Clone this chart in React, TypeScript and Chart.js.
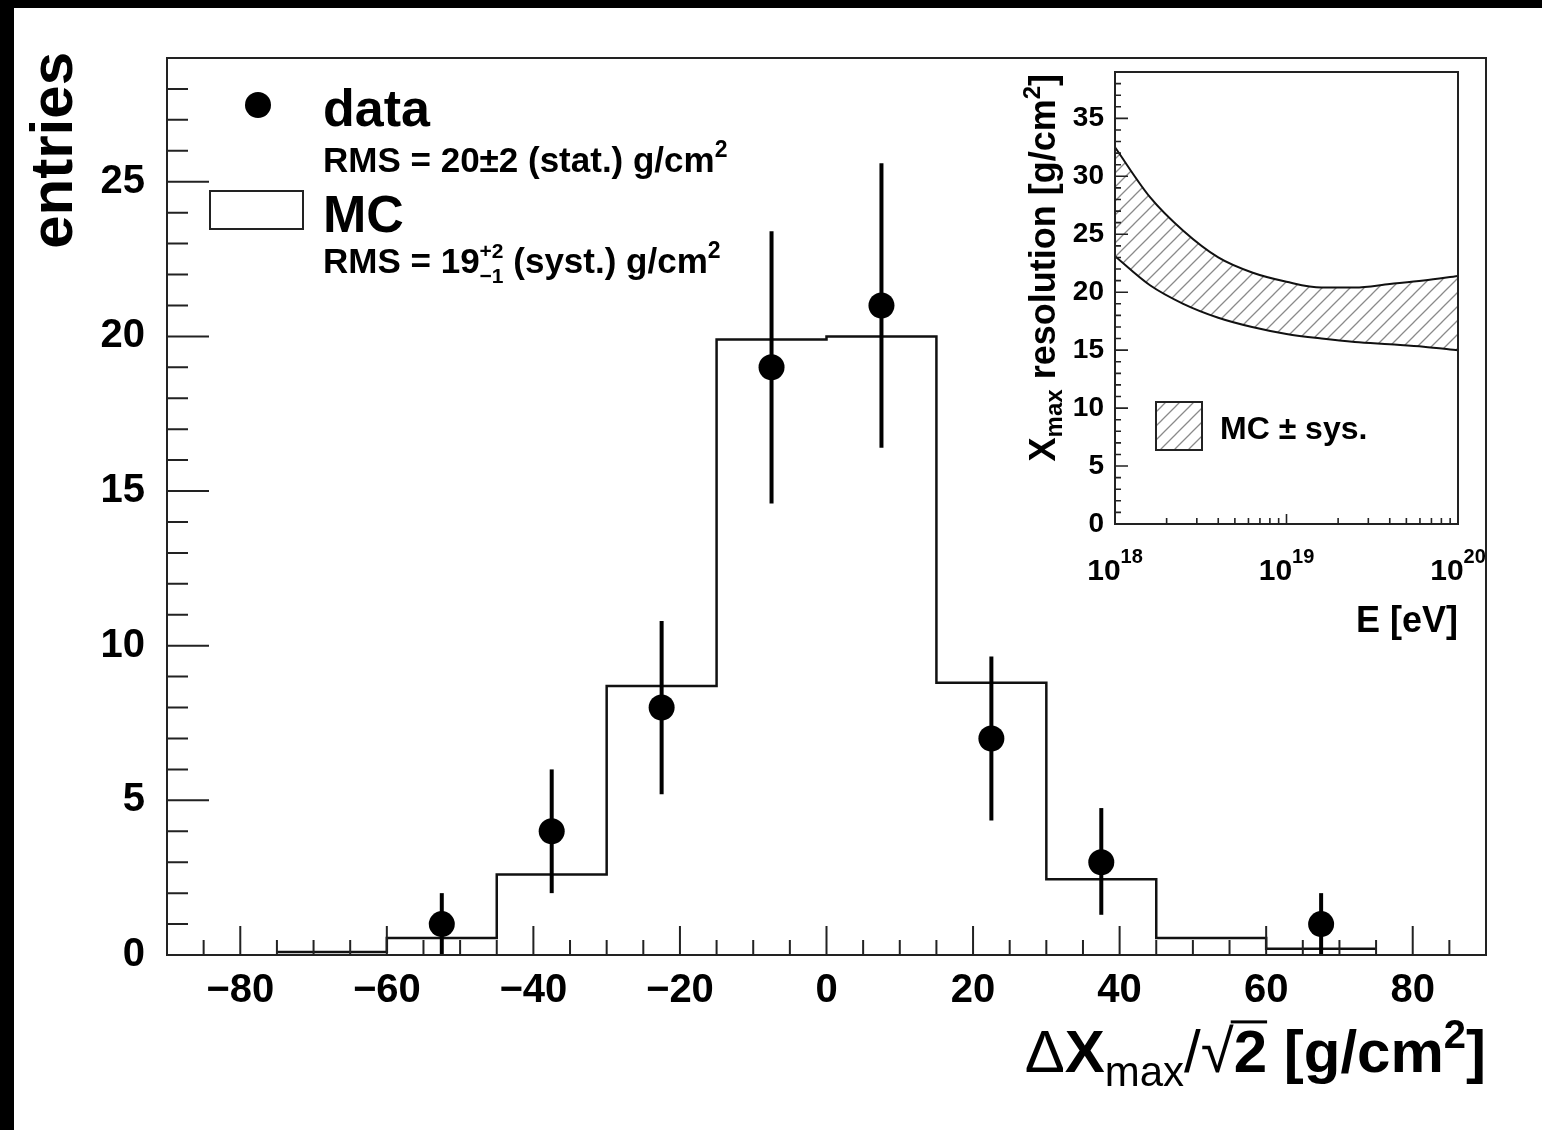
import React, { useEffect, useRef } from "react";
import { Chart, registerables } from "chart.js";

Chart.register(...registerables);

// ---------------- main histogram data ----------------
const binEdges = [-75, -60, -45, -30, -15, 0, 15, 30, 45, 60, 75];
const mcEntries = [0.1, 0.55, 2.6, 8.7, 19.9, 20.0, 8.8, 2.45, 0.55, 0.2];
const dataCenters = [-52.5, -37.5, -22.5, -7.5, 7.5, 22.5, 37.5, 67.5];
const dataEntries = [1, 4, 8, 19, 21, 7, 3, 1];
const dataErrDown = [1, 2, 2.8, 4.4, 4.6, 2.65, 1.7, 1];
const dataErrUp = [1, 2, 2.8, 4.4, 4.6, 2.65, 1.75, 1];
const xTickValues = [-80, -60, -40, -20, 0, 20, 40, 60, 80];
const yTickValues = [0, 5, 10, 15, 20, 25];

// ---------------- inset data ----------------
const insetEnergies = [1e18, 1.6e18, 2.5e18, 4e18, 6.3e18, 1e19, 1.6e19, 2.5e19, 4e19, 6.3e19, 1e20];
const insetUpper = [32.5, 28.2, 25.3, 23.0, 21.7, 20.9, 20.4, 20.4, 20.7, 21.0, 21.4];
const insetLower = [23.1, 20.6, 19.0, 17.8, 17.0, 16.4, 16.0, 15.7, 15.5, 15.3, 15.0];
const insetXTickExponents = [18, 19, 20];
const insetYTickValues = [0, 5, 10, 15, 20, 25, 30, 35];

const FONT = '"Liberation Sans", Helvetica, Arial, sans-serif';
const W = 1542;
const H = 1130;

type Run = { t: string; size: number; bold?: boolean; dy?: number; stack?: boolean; overline?: boolean };

function fontOf(r: Run) {
  return `${r.bold === false ? "normal" : "bold"} ${r.size}px ${FONT}`;
}

function measureRuns(ctx: CanvasRenderingContext2D, runs: Run[]) {
  let w = 0;
  for (let i = 0; i < runs.length; i++) {
    ctx.font = fontOf(runs[i]);
    const m = ctx.measureText(runs[i].t).width;
    if (runs[i].stack && runs[i + 1]) {
      ctx.font = fontOf(runs[i + 1]);
      const m2 = ctx.measureText(runs[i + 1].t).width;
      w += Math.max(m, m2);
      i++;
    } else w += m;
  }
  return w;
}

function drawRuns(ctx: CanvasRenderingContext2D, runs: Run[], x: number, y: number, align: "left" | "right" | "center") {
  const total = measureRuns(ctx, runs);
  let cx = align === "right" ? x - total : align === "center" ? x - total / 2 : x;
  ctx.textAlign = "left";
  ctx.textBaseline = "alphabetic";
  for (let i = 0; i < runs.length; i++) {
    const r = runs[i];
    ctx.font = fontOf(r);
    const m = ctx.measureText(r.t).width;
    ctx.fillText(r.t, cx, y + (r.dy || 0));
    if (r.overline) {
      ctx.fillRect(cx - 3, y + (r.dy || 0) - r.size * 0.86, m + 3, Math.max(2, r.size * 0.05));
    }
    if (r.stack && runs[i + 1]) {
      const r2 = runs[i + 1];
      ctx.font = fontOf(r2);
      const m2 = ctx.measureText(r2.t).width;
      ctx.fillText(r2.t, cx, y + (r2.dy || 0));
      cx += Math.max(m, m2);
      i++;
    } else cx += m;
  }
}

function makeHatch(): CanvasPattern | string {
  const c = document.createElement("canvas");
  c.width = 14;
  c.height = 14;
  const g = c.getContext("2d");
  if (!g) return "rgba(0,0,0,0.2)";
  g.strokeStyle = "#8a8a8a";
  g.lineWidth = 1.3;
  g.beginPath();
  g.moveTo(-3, 17);
  g.lineTo(17, -3);
  g.moveTo(-3, 3);
  g.lineTo(3, -3);
  g.moveTo(11, 17);
  g.lineTo(17, 11);
  g.stroke();
  const p = g.createPattern(c, "repeat");
  return p || "rgba(0,0,0,0.2)";
}

const tickFont = { family: FONT, size: 40, weight: "bold" as const };
const minusFmt = (v: number | string) => {
  const n = Number(v);
  return n < 0 ? "\u2212" + Math.abs(n) : String(n);
};

const mainDecor = {
  id: "mainDecor",
  afterDatasetsDraw(chart: any) {
    const { ctx, scales } = chart;
    const x = scales.x;
    const y = scales.y;
    ctx.save();
    ctx.strokeStyle = "#000";
    ctx.lineWidth = 4;
    dataCenters.forEach((c, i) => {
      const px = x.getPixelForValue(c);
      ctx.beginPath();
      ctx.moveTo(px, y.getPixelForValue(dataEntries[i] - dataErrDown[i]));
      ctx.lineTo(px, y.getPixelForValue(dataEntries[i] + dataErrUp[i]));
      ctx.stroke();
    });
    ctx.restore();
  },
  afterDraw(chart: any) {
    const { ctx, chartArea: a, scales } = chart;
    const x = scales.x;
    const y = scales.y;
    ctx.save();
    // frame
    ctx.strokeStyle = "#222";
    ctx.lineWidth = 2;
    ctx.strokeRect(a.left, a.top, a.right - a.left, a.bottom - a.top);
    // ticks (inward)
    ctx.lineWidth = 2;
    ctx.beginPath();
    for (let v = -85; v <= 85; v += 5) {
      const px = x.getPixelForValue(v);
      const len = v % 20 === 0 ? 29 : 15;
      ctx.moveTo(px, a.bottom);
      ctx.lineTo(px, a.bottom - len);
    }
    for (let v = 0; v <= 28; v += 1) {
      const py = y.getPixelForValue(v);
      const len = v % 5 === 0 ? 42 : 21;
      ctx.moveTo(a.left, py);
      ctx.lineTo(a.left + len, py);
    }
    ctx.stroke();

    ctx.fillStyle = "#000";
    // legend
    ctx.beginPath();
    ctx.arc(258, 105, 13, 0, Math.PI * 2);
    ctx.fill();
    drawRuns(ctx, [{ t: "data", size: 52 }], 323, 126, "left");
    drawRuns(
      ctx,
      [
        { t: "RMS = 20\u00b12 (stat.) g/cm", size: 35 },
        { t: "2", size: 23, dy: -15 },
      ],
      323,
      172,
      "left"
    );
    ctx.strokeStyle = "#222";
    ctx.lineWidth = 2;
    ctx.strokeRect(210, 191, 93, 38);
    drawRuns(ctx, [{ t: "MC", size: 52 }], 323, 232, "left");
    drawRuns(
      ctx,
      [
        { t: "RMS = 19", size: 35 },
        { t: "+2", size: 21, dy: -15, stack: true },
        { t: "\u22121", size: 21, dy: 10 },
        { t: " (syst.) g/cm", size: 35 },
        { t: "2", size: 23, dy: -15 },
      ],
      323,
      273,
      "left"
    );

    // y title
    ctx.save();
    ctx.translate(72, 52);
    ctx.rotate(-Math.PI / 2);
    drawRuns(ctx, [{ t: "entries", size: 60 }], 0, 0, "right");
    ctx.restore();

    // x title
    drawRuns(
      ctx,
      [
        { t: "\u0394", size: 60, bold: false },
        { t: "X", size: 60 },
        { t: "max", size: 42, bold: false, dy: 14 },
        { t: "/", size: 60, bold: false },
        { t: "\u221a", size: 60, bold: false },
        { t: "2", size: 60, overline: true },
        { t: " [g/cm", size: 60 },
        { t: "2", size: 40, dy: -24 },
        { t: "]", size: 60 },
      ],
      a.right,
      1072,
      "right"
    );
    ctx.restore();
  },
};

const insetDecor = {
  id: "insetDecor",
  afterDraw(chart: any) {
    const { ctx, chartArea: a, scales } = chart;
    const x = scales.x;
    const y = scales.y;
    ctx.save();
    ctx.strokeStyle = "#222";
    ctx.lineWidth = 2;
    ctx.strokeRect(a.left, a.top, a.right - a.left, a.bottom - a.top);
    ctx.lineWidth = 1.6;
    ctx.beginPath();
    for (let v = 1; v < 39; v += 1) {
      const py = y.getPixelForValue(v);
      const len = v % 5 === 0 ? 13 : 6;
      ctx.moveTo(a.left, py);
      ctx.lineTo(a.left + len, py);
    }
    for (let e = 18; e < 20; e++) {
      for (let k = 1; k <= 9; k++) {
        if (k === 1 && e === 18) continue;
        const px = x.getPixelForValue(k * Math.pow(10, e));
        const len = k === 1 ? 10 : 6;
        ctx.moveTo(px, a.bottom);
        ctx.lineTo(px, a.bottom - len);
      }
    }
    ctx.stroke();

    ctx.fillStyle = "#000";
    insetXTickExponents.forEach((e) => {
      const px = x.getPixelForValue(Math.pow(10, e));
      drawRuns(
        ctx,
        [
          { t: "10", size: 30 },
          { t: String(e), size: 20, dy: -17 },
        ],
        px,
        580,
        "center"
      );
    });

    drawRuns(ctx, [{ t: "E [eV]", size: 36 }], a.right, 632, "right");

    ctx.save();
    ctx.translate(1055, 74);
    ctx.rotate(-Math.PI / 2);
    drawRuns(
      ctx,
      [
        { t: "X", size: 36 },
        { t: "max", size: 24, dy: 7 },
        { t: " resolution [g/cm", size: 36 },
        { t: "2", size: 24, dy: -15 },
        { t: "]", size: 36 },
      ],
      0,
      0,
      "right"
    );
    ctx.restore();

    // legend
    const pat = chart.data.datasets[1].backgroundColor;
    ctx.fillStyle = pat;
    ctx.fillRect(1156, 402, 46, 48);
    ctx.strokeStyle = "#222";
    ctx.lineWidth = 2;
    ctx.strokeRect(1156, 402, 46, 48);
    ctx.fillStyle = "#000";
    drawRuns(ctx, [{ t: "MC \u00b1 sys.", size: 32 }], 1220, 439, "left");
    ctx.restore();
  },
};

export default function App() {
  const mainRef = useRef<HTMLCanvasElement | null>(null);
  const insetRef = useRef<HTMLCanvasElement | null>(null);

  useEffect(() => {
    if (!mainRef.current || !insetRef.current) return;

    const histPoints = mcEntries.map((v, i) => ({ x: binEdges[i], y: v }));
    histPoints.push({ x: binEdges[binEdges.length - 1], y: mcEntries[mcEntries.length - 1] });
    const dataPoints = dataCenters.map((c, i) => ({ x: c, y: dataEntries[i] }));

    const main = new Chart(mainRef.current, {
      type: "scatter",
      data: {
        datasets: [
          {
            type: "line",
            label: "MC",
            data: histPoints,
            stepped: true,
            borderColor: "#111",
            borderWidth: 2.5,
            pointRadius: 0,
            fill: false,
            order: 2,
          } as any,
          {
            type: "scatter",
            label: "data",
            data: dataPoints,
            pointRadius: 13,
            pointHoverRadius: 13,
            pointBackgroundColor: "#000",
            pointBorderColor: "#000",
            pointBorderWidth: 0,
            order: 1,
          } as any,
        ],
      },
      options: {
        responsive: false,
        animation: false,
        events: [],
        layout: { padding: { top: 58, right: 56, left: 0, bottom: 0 } },
        plugins: { legend: { display: false }, tooltip: { enabled: false } },
        scales: {
          x: {
            type: "linear",
            min: -90,
            max: 90,
            grid: { display: false, drawTicks: false },
            border: { display: false },
            afterFit: (s: any) => {
              s.height = 175;
            },
            afterBuildTicks: (s: any) => {
              s.ticks = xTickValues.map((v) => ({ value: v }));
            },
            ticks: {
              autoSkip: false,
              maxRotation: 0,
              padding: 12,
              color: "#000",
              font: tickFont,
              callback: minusFmt,
            },
          },
          y: {
            type: "linear",
            min: 0,
            max: 29,
            grid: { display: false, drawTicks: false },
            border: { display: false },
            afterFit: (s: any) => {
              s.width = 167;
            },
            afterBuildTicks: (s: any) => {
              s.ticks = yTickValues.map((v) => ({ value: v }));
            },
            ticks: {
              autoSkip: false,
              padding: 22,
              color: "#000",
              font: tickFont,
              callback: minusFmt,
            },
          },
        },
      } as any,
      plugins: [mainDecor],
    });

    const hatch = makeHatch();
    const inset = new Chart(insetRef.current, {
      type: "line",
      data: {
        datasets: [
          {
            label: "MC lower",
            data: insetEnergies.map((e, i) => ({ x: e, y: insetLower[i] })),
            borderColor: "#111",
            borderWidth: 2,
            pointRadius: 0,
            cubicInterpolationMode: "monotone",
            fill: false,
          },
          {
            label: "MC upper",
            data: insetEnergies.map((e, i) => ({ x: e, y: insetUpper[i] })),
            borderColor: "#111",
            borderWidth: 2,
            pointRadius: 0,
            cubicInterpolationMode: "monotone",
            fill: "-1",
            backgroundColor: hatch,
          },
        ],
      } as any,
      options: {
        responsive: false,
        animation: false,
        events: [],
        layout: { padding: { top: 72, right: 84, left: 1055, bottom: 546 } },
        plugins: { legend: { display: false }, tooltip: { enabled: false } },
        scales: {
          x: {
            type: "logarithmic",
            min: 1e18,
            max: 1e20,
            grid: { display: false, drawTicks: false },
            border: { display: false },
            afterFit: (s: any) => {
              s.height = 60;
            },
            ticks: { display: false },
          },
          y: {
            type: "linear",
            min: 0,
            max: 39,
            grid: { display: false, drawTicks: false },
            border: { display: false },
            afterFit: (s: any) => {
              s.width = 60;
            },
            afterBuildTicks: (s: any) => {
              s.ticks = insetYTickValues.map((v) => ({ value: v }));
            },
            ticks: {
              autoSkip: false,
              padding: 11,
              color: "#000",
              font: { family: FONT, size: 28, weight: "bold" },
            },
          },
        },
      } as any,
      plugins: [insetDecor],
    });

    return () => {
      main.destroy();
      inset.destroy();
    };
  }, []);

  return (
    <div style={{ position: "fixed", left: 0, top: 0, width: W, height: H, background: "#000", overflow: "hidden" }}>
      <div style={{ position: "absolute", left: 14, top: 8, right: 0, bottom: 0, background: "#fff" }} />
      <canvas ref={mainRef} width={W} height={H} style={{ position: "absolute", left: 0, top: 0, width: W, height: H }} />
      <canvas ref={insetRef} width={W} height={H} style={{ position: "absolute", left: 0, top: 0, width: W, height: H }} />
    </div>
  );
}
